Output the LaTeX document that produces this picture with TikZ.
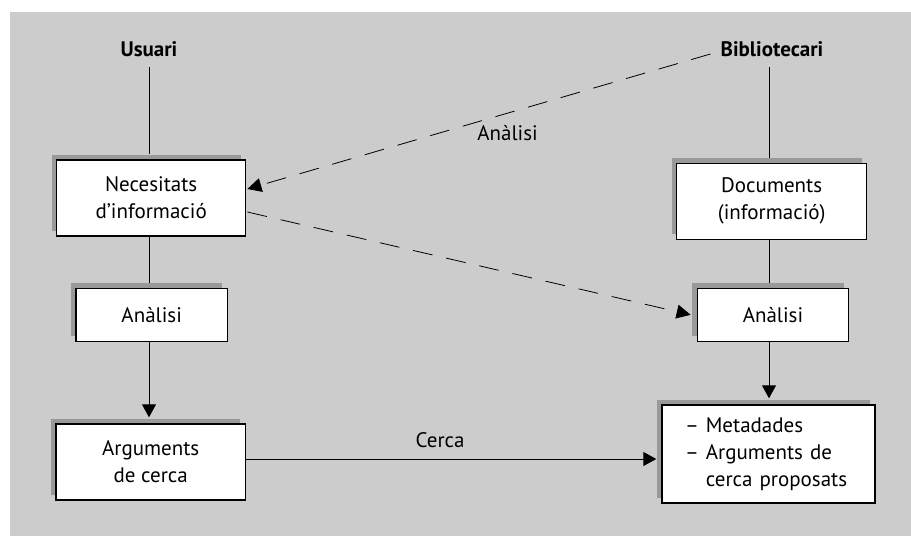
\documentclass[tikz,border=0pt]{standalone}
\usepackage{fontspec}
\setmainfont{PT Sans}
\usetikzlibrary{arrows.meta,shadows,calc}
\definecolor{panelgray}{HTML}{CCCCCC}
\definecolor{shadowgray}{HTML}{999999}
\begin{document}
\begin{tikzpicture}[x=1pt,y=-1pt,
  font=\fontsize{21pt}{27pt}\selectfont,
  box/.style={draw=black, line width=1.4pt, fill=white, align=center, inner sep=0pt,
    drop shadow={shadow xshift=-5pt, shadow yshift=5pt, fill=shadowgray, opacity=1}},
  head/.style={font=\fontsize{21pt}{27pt}\selectfont\bfseries, minimum height=36pt, inner sep=0pt},
  conn/.style={line width=1pt},
  arr/.style={conn, -{Triangle[length=13pt,width=14pt]}},
  dasharr/.style={line width=0.8pt, dash pattern=on 20pt off 14pt, -{Triangle[length=14pt,width=14pt]}},
]
\useasboundingbox (0,0) rectangle (911,536);
\fill[panelgray] (10,12) rectangle (911,536);

\node[head] (usuari) at (149,49) {Usuari};
\node[head] (biblio) at (772,49) {Bibliotecari};

\node[box, minimum width=189pt, minimum height=76pt] (nec) at (151.2,198) {Necesitats\\d’informació};
\node[box, minimum width=151.3pt, minimum height=53pt] (anaL) at (151.7,314.8) {Anàlisi};
\node[box, minimum width=189.3pt, minimum height=76pt] (arg) at (150.7,462) {Arguments\\de cerca};

\node[box, minimum width=190pt, minimum height=76pt] (doc) at (771.7,201.3) {Documents\\(informació)};
\node[box, minimum width=151.4pt, minimum height=53pt] (anaR) at (773,314.8) {Anàlisi};
\node[box, text width=167pt, inner xsep=23pt, minimum height=98pt, align=left] (meta) at (768.5,454)
  {– Metadades\\– Arguments de\\\phantom{– }cerca proposats};

\coordinate (colL) at (149,0);
\coordinate (colR) at (769,0);

\draw[conn] (usuari.south -| colL) -- ($(nec.north -| colL)+(0,-5)$);
\draw[conn] (nec.south -| colL) -- ($(anaL.north -| colL)+(0,-5)$);
\draw[arr] (anaL.south -| colL) -- ($(arg.north -| colL)+(0,-6)$);

\draw[conn] (biblio.south -| colR) -- ($(doc.north -| colR)+(0,-5)$);
\draw[conn] (doc.south -| colR) -- ($(anaR.north -| colR)+(0,-5)$);
\draw[arr] (anaR.south -| colR) -- ($(meta.north -| colR)+(0,-6)$);

\coordinate (cl) at ($(arg.east)+(0,-3)$);
\draw[arr] (cl) -- node[pos=0.473, yshift=19pt] (cerca) {Cerca} ($(cl -| meta.west)+(-5,0)$);

\coordinate (dstart) at ($(biblio.west)+(-10,5)$);
\draw[dasharr] (dstart) -- node[pos=0.438, yshift=-20pt] (anlab) {Anàlisi} ($(nec.east)+(1,-9)$);
\draw[dasharr] ($(nec.east)+(1,14)$) -- ($(anaR.west)+(-6,0)$);
\end{tikzpicture}
\end{document}
